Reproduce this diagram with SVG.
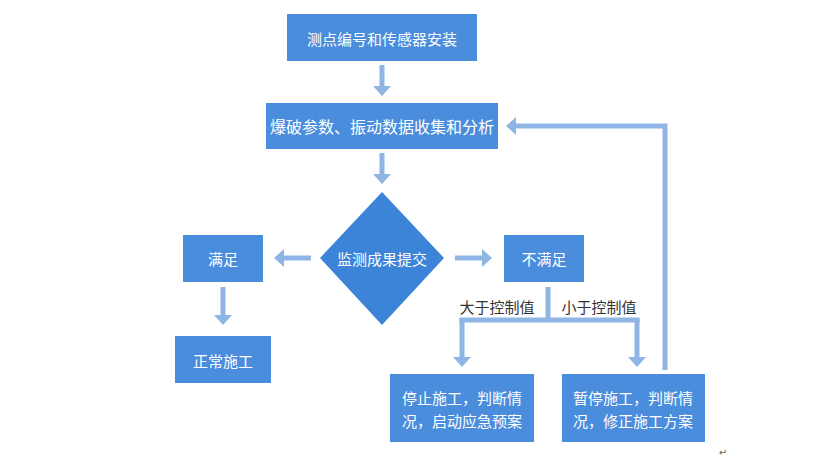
<svg xmlns="http://www.w3.org/2000/svg" width="838" height="467" viewBox="0 0 838 467">
<style>
.box{fill:#4a8ddc;}
.dia{fill:#3c84d8;}
.t{font-family:"Noto Sans CJK SC","Liberation Sans",sans-serif;font-size:15px;fill:#ffffff;text-anchor:middle;dominant-baseline:central;}
.lbl{font-family:"Noto Sans CJK SC","Liberation Sans",sans-serif;font-size:15px;fill:#333333;text-anchor:middle;dominant-baseline:central;}
.c{fill:none;stroke:#8fb5e4;stroke-width:5;}
</style>
<defs>
<marker id="ah" markerWidth="4" markerHeight="4" refX="1.2" refY="2" orient="auto" markerUnits="strokeWidth">
<path d="M0,0.2 L2,2 L0,3.8 Z" fill="#8fb5e4"/>
</marker>
</defs>
<rect width="838" height="467" fill="#ffffff"/>
<g id="connectors">
<line class="c" x1="382" y1="65" x2="382" y2="92" marker-end="url(#ah)"/>
<line class="c" x1="382" y1="153" x2="382" y2="180" marker-end="url(#ah)"/>
<line class="c" x1="311" y1="258" x2="278" y2="258" marker-end="url(#ah)"/>
<line class="c" x1="455" y1="258" x2="488" y2="258" marker-end="url(#ah)"/>
<line class="c" x1="223" y1="287" x2="223" y2="321" marker-end="url(#ah)"/>
<line class="c" x1="548" y1="287" x2="548" y2="320"/>
<line class="c" x1="459.5" y1="320" x2="639.5" y2="320"/>
<line class="c" x1="462" y1="318" x2="462" y2="363" marker-end="url(#ah)"/>
<line class="c" x1="637" y1="318" x2="637" y2="363" marker-end="url(#ah)"/>
<polyline class="c" points="665,370 665,126 510,126" marker-end="url(#ah)"/>
<text class="lbl" x="497" y="306">大于控制值</text>
<text class="lbl" x="599" y="306">小于控制值</text>
</g>
<g id="n1"><rect class="box" x="287" y="14" width="190" height="47"/><text class="t" x="382" y="38">测点编号和传感器安装</text></g>
<g id="n2"><rect class="box" x="266" y="103" width="232" height="46"/><text class="t" x="382" y="126" style="font-size:16px">爆破参数、振动数据收集和分析</text></g>
<g id="n3"><polygon class="dia" points="382,192 444,258 382,325 320,258"/><text class="t" x="382" y="258">监测成果提交</text></g>
<g id="n4"><rect class="box" x="183" y="235" width="80" height="47"/><text class="t" x="223" y="258">满足</text></g>
<g id="n5"><rect class="box" x="504" y="235" width="80" height="47"/><text class="t" x="544" y="258">不满足</text></g>
<g id="n6"><rect class="box" x="175" y="336" width="96" height="47"/><text class="t" x="223" y="360">正常施工</text></g>
<g id="n7"><rect class="box" x="390" y="374" width="144" height="68"/><text class="t" x="462" y="397">停止施工，判断情</text><text class="t" x="462" y="420">况，启动应急预案</text></g>
<g id="n8"><rect class="box" x="562" y="374" width="143" height="68"/><text class="t" x="633" y="397">暂停施工，判断情</text><text class="t" x="633" y="420">况，修正施工方案</text></g>
<text x="723" y="452" style="font-family:'DejaVu Sans',sans-serif;font-size:10px;fill:#666666" text-anchor="middle" dominant-baseline="central">↵</text>
</svg>
